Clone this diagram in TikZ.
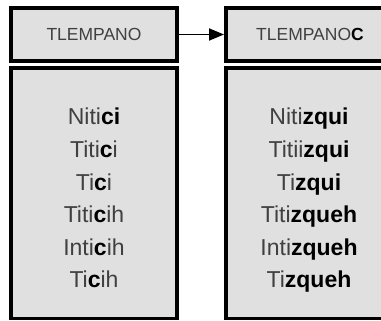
\documentclass[tikz,border=0pt]{standalone}
\usepackage{fontspec}
\setmainfont{Liberation Sans}
\usetikzlibrary{arrows.meta}
\definecolor{boxfill}{HTML}{E0E0E0}
\definecolor{lighttext}{HTML}{404040}
\begin{document}
\begin{tikzpicture}[x=1pt,y=-1pt,
  panel/.style={draw=black,line width=3.5pt,fill=boxfill},
  word/.style={font=\fontsize{23}{23}\selectfont,text=lighttext,anchor=base},
  head/.style={font=\fontsize{17.5}{17.5}\selectfont,text=lighttext},
  link/.style={line width=1.8pt,-{Triangle[length=15pt,width=12pt]}}]
\useasboundingbox (0,0) rectangle (381,321);
\begin{scope}
\clip (0,0) rectangle (381,321);
\draw[panel] (11,8) rectangle (177,61);
\draw[panel] (226,8) rectangle (392,61);
\draw[panel] (11,68) rectangle (177,318.5);
\draw[panel] (226,68) rectangle (392,318.5);
\end{scope}
\coordinate (la) at (178.5,34.5);
\coordinate (ra) at (224,34.5);
\draw[link] (la) -- (ra);
\node[head] (h1) at (94,34.5) {TLEMPANO};
\node[head] (h2) at (310,34.5) {TLEMPANO\textcolor{black}{\bfseries C}};
\node[word] (a1) at (94,125) {Niti\textcolor{black}{\bfseries ci}};
\node[word] (a2) at (94,157.5) {Titi\textcolor{black}{\bfseries c}i};
\node[word] (a3) at (94,190) {Ti\textcolor{black}{\bfseries c}i};
\node[word] (a4) at (94,222.5) {Titi\textcolor{black}{\bfseries c}ih};
\node[word] (a5) at (94,255) {Inti\textcolor{black}{\bfseries c}ih};
\node[word] (a6) at (94,287.5) {Ti\textcolor{black}{\bfseries c}ih};
\node[word] (b1) at (309,125) {Niti\textcolor{black}{\bfseries zqui}};
\node[word] (b2) at (309,157.5) {Titii\textcolor{black}{\bfseries zqui}};
\node[word] (b3) at (309,190) {Ti\textcolor{black}{\bfseries zqui}};
\node[word] (b4) at (309,222.5) {Titi\textcolor{black}{\bfseries zqueh}};
\node[word] (b5) at (309,255) {Inti\textcolor{black}{\bfseries zqueh}};
\node[word] (b6) at (309,287.5) {Ti\textcolor{black}{\bfseries zqueh}};
\end{tikzpicture}
\end{document}
